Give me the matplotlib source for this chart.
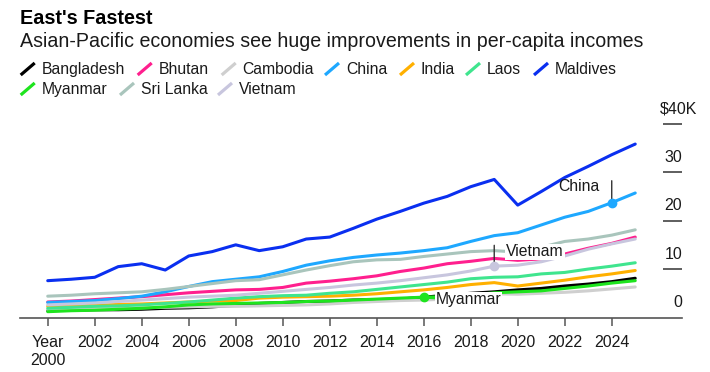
import numpy as np
import matplotlib
matplotlib.use("Agg")
import matplotlib.pyplot as plt
import matplotlib.transforms as mtransforms
from matplotlib.lines import Line2D

plt.rcParams['font.family'] = ['Liberation Sans', 'DejaVu Sans']

# GDP per capita, $K, 2000-2025
years = list(range(2000, 2026))
bangladesh = [1.4, 1.5, 1.6, 1.6, 1.7, 1.9, 2.0, 2.2, 2.5, 2.9, 3.1, 3.3, 3.4,
              3.6, 3.7, 3.8, 4.2, 4.6, 5.0, 5.3, 5.7, 6.0, 6.5, 6.9, 7.4, 8.1]
bhutan = [3.2, 3.4, 3.7, 4.0, 4.3, 4.7, 5.1, 5.4, 5.7, 5.8, 6.2, 7.1, 7.5,
          8.0, 8.6, 9.5, 10.2, 11.1, 11.6, 12.2, 11.8, 12.1, 13.1, 14.3, 15.3, 16.6]
cambodia = [1.6, 1.7, 1.8, 1.9, 2.0, 2.1, 2.2, 2.3, 2.3, 2.4, 2.5, 2.6, 2.8,
            3.1, 3.3, 3.5, 3.6, 3.8, 4.6, 4.9, 4.8, 5.0, 5.2, 5.5, 5.9, 6.3]
china = [3.1, 3.3, 3.5, 3.9, 4.4, 5.3, 6.4, 7.4, 7.9, 8.4, 9.5, 10.8, 11.7,
         12.4, 12.9, 13.3, 13.8, 14.4, 15.7, 16.9, 17.5, 19.1, 20.7, 21.9, 23.7, 25.7]
india = [2.3, 2.4, 2.5, 2.7, 2.8, 3.0, 3.2, 3.4, 3.5, 4.0, 4.2, 4.3, 4.4,
         4.6, 4.9, 5.3, 5.7, 6.2, 6.8, 7.2, 6.5, 7.1, 7.7, 8.4, 9.0, 9.7]
laos = [1.9, 2.1, 2.3, 2.4, 2.6, 2.9, 3.2, 3.6, 4.0, 4.3, 4.5, 4.6, 5.0,
        5.3, 5.8, 6.3, 6.8, 7.3, 8.0, 8.3, 8.4, 9.0, 9.3, 10.0, 10.6, 11.3]
maldives = [7.6, 7.9, 8.3, 10.5, 11.1, 9.8, 12.7, 13.6, 15.0, 13.8, 14.6, 16.2, 16.6,
            18.4, 20.3, 21.9, 23.6, 25.0, 27.0, 28.5, 23.2, 26.0, 28.9, 31.2, 33.6, 35.8]
myanmar = [1.2, 1.4, 1.5, 1.7, 1.9, 2.2, 2.6, 2.8, 2.9, 3.0, 3.1, 3.3, 3.4,
           3.6, 3.8, 4.0, 4.2, 4.3, 4.6, 5.1, 5.3, 5.5, 6.0, 6.5, 7.1, 7.6]
sri_lanka = [4.4, 4.6, 4.9, 5.1, 5.3, 5.8, 6.4, 7.0, 7.6, 7.8, 8.8, 9.8, 10.7,
             11.5, 11.9, 12.0, 12.6, 13.1, 13.6, 13.8, 13.5, 14.5, 15.7, 16.2, 17.0, 18.1]
vietnam = [2.6, 2.8, 3.0, 3.3, 3.6, 3.9, 4.2, 4.4, 4.6, 5.0, 5.4, 5.8, 6.2,
           6.7, 7.1, 7.6, 8.2, 8.8, 9.6, 10.6, 10.8, 11.5, 12.7, 14.1, 15.2, 16.2]

names = ["Bangladesh", "Bhutan", "Cambodia", "China", "India", "Laos",
         "Maldives", "Myanmar", "Sri Lanka", "Vietnam"]
series = [bangladesh, bhutan, cambodia, china, india, laos,
          maldives, myanmar, sri_lanka, vietnam]
colors = ["#000000", "#ff1f8e", "#cfcfcf", "#1ea8ff", "#ffb000", "#3fe58e",
          "#0a2ff0", "#1ee41e", "#a9c5bc", "#c8c6de"]

y_ticks = [10, 20, 30, 40]
y_labels = ["10", "20", "30", "$40K"]
x_ticks = list(range(2000, 2025, 2))
x_labels = ["Year\n2000"] + [str(y) for y in x_ticks[1:]]

W, H = 710, 372
fig = plt.figure(figsize=(W / 100, H / 100), dpi=100)


def fx(px):
    return px / W


def fy(py):
    return 1 - py / H


# axes: x from 20px to 682px, y zero at 317.5px, top at 115px
ax = fig.add_axes([fx(20), fy(317.5), fx(682 - 20), (317.5 - 115) / H])
ax.set_xlim(1998.82, 2026.99)
ax.set_ylim(0, 41.8)

for vals, col in zip(series, colors):
    ax.plot(years, vals, color=col, lw=2.2, solid_capstyle='round',
            solid_joinstyle='round')

for s in ["top", "left", "right"]:
    ax.spines[s].set_visible(False)
ax.spines["bottom"].set_color("#555555")
ax.spines["bottom"].set_linewidth(1.2)

ax.set_xticks(x_ticks)
ax.set_xticklabels(x_labels)
ax.tick_params(axis='x', length=5.8, width=1.1, color="#555555",
               labelsize=11.5, pad=7, labelcolor="#1a1a1a")

ax.yaxis.tick_right()
ax.set_yticks(y_ticks)
ax.tick_params(axis='y', direction='in', length=14, width=1.1,
               color="#333333", labelright=False, labelleft=False)

# right-hand value labels sit above their tick marks
blend = mtransforms.blended_transform_factory(ax.transAxes, ax.transData)
up = mtransforms.ScaledTranslation(0, 15 / 100, fig.dpi_scale_trans)
for v, lab in zip([0] + y_ticks, ["0"] + y_labels):
    xa = 1.0 if lab != "$40K" else (697 - 20) / 662
    ax.text(xa, v, lab, transform=blend + up, ha='right', va='center',
            fontsize=11.5, color="#1a1a1a")

# annotations
i24 = years.index(2024)
ax.plot(2024, china[i24], 'o', color=colors[3], ms=6, zorder=5)
ax.annotate('', xy=(2024, china[i24]), xytext=(0, 15.8),
            textcoords='offset points',
            arrowprops=dict(arrowstyle='-', color="#333333", lw=1.0,
                            shrinkA=0, shrinkB=0))
ax.annotate('China', xy=(2024, china[i24]), xytext=(-8.6, 11.3),
            textcoords='offset points', ha='right', va='center',
            fontsize=11.3, color="#1a1a1a")

i19 = years.index(2019)
ax.annotate('', xy=(2019, vietnam[i19]), xytext=(0, 15),
            textcoords='offset points',
            arrowprops=dict(arrowstyle='-', color="#333333", lw=1.0,
                            shrinkA=0, shrinkB=0), zorder=6)
ax.annotate('Vietnam', xy=(2019, vietnam[i19]), xytext=(8.6, 10.3),
            textcoords='offset points', ha='left', va='center',
            fontsize=11.3, color="#1a1a1a", zorder=6,
            bbox=dict(boxstyle='square,pad=0.05', fc='white', ec='none'))
ax.plot(2019, vietnam[i19], 'o', color=colors[9], ms=6, zorder=7)

i16 = years.index(2016)
ax.annotate('Myanmar', xy=(2016, myanmar[i16]), xytext=(8.6, -2),
            textcoords='offset points', ha='left', va='center',
            fontsize=11.3, color="#1a1a1a", zorder=6,
            bbox=dict(boxstyle='square,pad=0.05', fc='white', ec='none'),
            arrowprops=dict(arrowstyle='-', color=colors[7], lw=2.2,
                            shrinkA=0, shrinkB=0))
ax.plot(2016, myanmar[i16], 'o', color=colors[7], ms=6, zorder=7)

# title and subtitle
fig.text(fx(20), fy(24), "East's Fastest", fontsize=14.2, fontweight='bold',
         va='baseline', ha='left', color="#000000")
fig.text(fx(20), fy(47.3),
         "Asian-Pacific economies see huge improvements in per-capita incomes",
         fontsize=14.1, va='baseline', ha='left', color="#1a1a1a")

# legend with diagonal swatches
leg_x = [20.7, 137.7, 221.7, 325, 400, 466, 534, 20.7, 120, 218]
leg_row = [0, 0, 0, 0, 0, 0, 0, 1, 1, 1]
for name, col, x0, r in zip(names, colors, leg_x, leg_row):
    base = 74 + 20 * r
    fig.add_artist(Line2D([fx(x0), fx(x0 + 14)], [fy(base + 1), fy(base - 11)],
                          transform=fig.transFigure, color=col, lw=2.3,
                          solid_capstyle='butt'))
    fig.text(fx(x0 + 21), fy(base), name, fontsize=11.3, va='baseline',
             ha='left', color="#1a1a1a")

fig.savefig("out.png", dpi=100)
